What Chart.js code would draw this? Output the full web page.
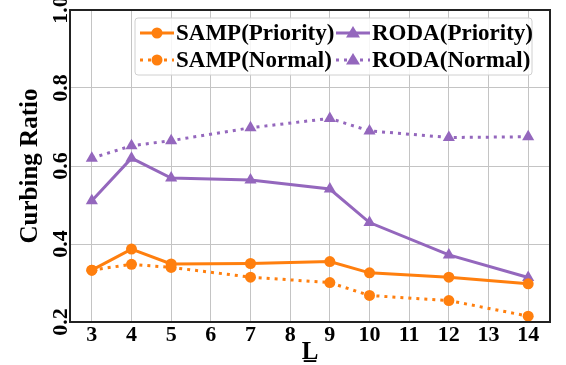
<!DOCTYPE html>
<html lang="en">
<head>
  <meta charset="UTF-8">
  <title>Curbing Ratio vs L</title>
  <script src="https://cdn.jsdelivr.net/npm/chart.js"></script>
  <style>
    body { margin: 0; background: #fff; }
  </style>
</head>
<body>
  <canvas id="ratioChart" width="566" height="365"></canvas>

  <script>
    // values
    const lValues = [3, 4, 5, 7, 9, 10, 12, 14];
    const xTicks = [3, 4, 5, 6, 7, 8, 9, 10, 11, 12, 13, 14];
    const yTicks = [0.2, 0.4, 0.6, 0.8, 1.0];
    const sampPriority = [0.333, 0.387, 0.349, 0.350, 0.355, 0.326, 0.315, 0.298];
    const sampNormal = [0.333, 0.348, 0.340, 0.315, 0.301, 0.268, 0.255, 0.215];
    const rodaPriority = [0.511, 0.620, 0.569, 0.564, 0.541, 0.455, 0.372, 0.314];
    const rodaNormal = [0.620, 0.652, 0.665, 0.698, 0.722, 0.690, 0.673, 0.675];

    const ORANGE = '#ff7f0e';
    const PURPLE = '#9467bd';
    const FONT = "'Liberation Serif', 'DejaVu Serif', serif";

    function pts(vals) {
      return lValues.map((x, i) => ({ x: x, y: vals[i] }));
    }

    function series(label, vals, color, dashed, marker) {
      return {
        label: label,
        data: pts(vals),
        borderColor: color,
        backgroundColor: color,
        borderWidth: 3,
        borderDash: dashed ? [3, 5] : [],
        pointStyle: marker,
        pointRadius: marker === 'circle' ? 5.5 : 7,
        pointBorderWidth: 0,
        tension: 0
      };
    }

    // legend drawn inside the plot, two columns like the original
    const legendInside = {
      id: 'legendInside',
      afterDraw(chart) {
        const ctx = chart.ctx;
        const box = { x: 135, y: 18, w: 397, h: 57 };
        ctx.save();
        ctx.fillStyle = 'rgba(255,255,255,0.85)';
        ctx.strokeStyle = '#d0d0d0';
        ctx.lineWidth = 1;
        ctx.beginPath();
        ctx.roundRect(box.x, box.y, box.w, box.h, 3);
        ctx.fill();
        ctx.stroke();
        const items = [
          [0, 0, 0], [2, 1, 0], [1, 0, 1], [3, 1, 1]
        ];
        ctx.font = 'bold 23px ' + FONT;
        ctx.textBaseline = 'middle';
        items.forEach(([di, col, row]) => {
          const ds = chart.data.datasets[di];
          const x0 = col === 0 ? 140 : 336;
          const y0 = 33 + row * 27;
          ctx.strokeStyle = ds.borderColor;
          ctx.lineWidth = 3;
          ctx.setLineDash(ds.borderDash);
          ctx.beginPath();
          ctx.moveTo(x0, y0);
          ctx.lineTo(x0 + 34, y0);
          ctx.stroke();
          ctx.setLineDash([]);
          ctx.fillStyle = ds.borderColor;
          const cx = x0 + 17;
          if (ds.pointStyle === 'circle') {
            ctx.beginPath();
            ctx.arc(cx, y0, 5.5, 0, Math.PI * 2);
            ctx.fill();
          } else {
            ctx.beginPath();
            ctx.moveTo(cx, y0 - 7);
            ctx.lineTo(cx + 7, y0 + 4.5);
            ctx.lineTo(cx - 7, y0 + 4.5);
            ctx.closePath();
            ctx.fill();
          }
          ctx.fillStyle = '#000';
          ctx.textAlign = 'left';
          ctx.fillText(ds.label, x0 + 36, y0 + 1);
        });
        ctx.restore();
      }
    };

    // dark frame around the plot area
    const frame = {
      id: 'frame',
      afterDatasetsDraw(chart) {
        const a = chart.chartArea;
        const ctx = chart.ctx;
        ctx.save();
        ctx.strokeStyle = '#222';
        ctx.lineWidth = 2;
        ctx.strokeRect(a.left, a.top, a.right - a.left, a.bottom - a.top);
        ctx.restore();
      }
    };

    new Chart(document.getElementById('ratioChart'), {
      type: 'line',
      data: {
        datasets: [
          series('SAMP(Priority)', sampPriority, ORANGE, false, 'circle'),
          series('SAMP(Normal)', sampNormal, ORANGE, true, 'circle'),
          series('RODA(Priority)', rodaPriority, PURPLE, false, 'triangle'),
          series('RODA(Normal)', rodaNormal, PURPLE, true, 'triangle')
        ]
      },
      options: {
        responsive: false,
        animation: false,
        layout: { padding: { left: 0, right: 16, top: 10, bottom: 0 } },
        plugins: {
          legend: { display: false },
          tooltip: { enabled: false }
        },
        scales: {
          x: {
            type: 'linear',
            min: 2.45,
            max: 14.55,
            afterBuildTicks: axis => { axis.ticks = xTicks.map(v => ({ value: v })); },
            afterFit: axis => { axis.height = 43; },
            grid: { color: '#c4c4c4', lineWidth: 1, drawTicks: false },
            border: { display: false },
            ticks: {
              color: '#000',
              font: { family: FONT, size: 22, weight: 'bold' },
              padding: 0,
              autoSkip: false,
              maxRotation: 0
            },
            title: {
              display: true,
              text: 'L\u0332',
              color: '#000',
              font: { family: FONT, size: 25, weight: 'bold' },
              padding: { top: 0, bottom: -3 }
            }
          },
          y: {
            min: 0.2,
            max: 1.0,
            afterBuildTicks: axis => { axis.ticks = yTicks.map(v => ({ value: v })); },
            afterFit: axis => {
              axis.width = 70;
              axis.paddingTop = 0;
              axis.paddingBottom = 0;
            },
            grid: { color: '#c4c4c4', lineWidth: 1, drawTicks: false },
            border: { display: false },
            ticks: {
              color: '#000',
              font: { family: FONT, size: 22, weight: 'bold' },
              padding: -5,
              crossAlign: 'center',
              autoSkip: false,
              minRotation: 90,
              maxRotation: 90,
              callback: v => v.toFixed(1)
            },
            title: {
              display: true,
              text: 'Curbing Ratio',
              color: '#000',
              font: { family: FONT, size: 25, weight: 'bold' },
              padding: { top: 16, bottom: 0 }
            }
          }
        }
      },
      plugins: [frame, legendInside]
    });
  </script>
</body>
</html>
